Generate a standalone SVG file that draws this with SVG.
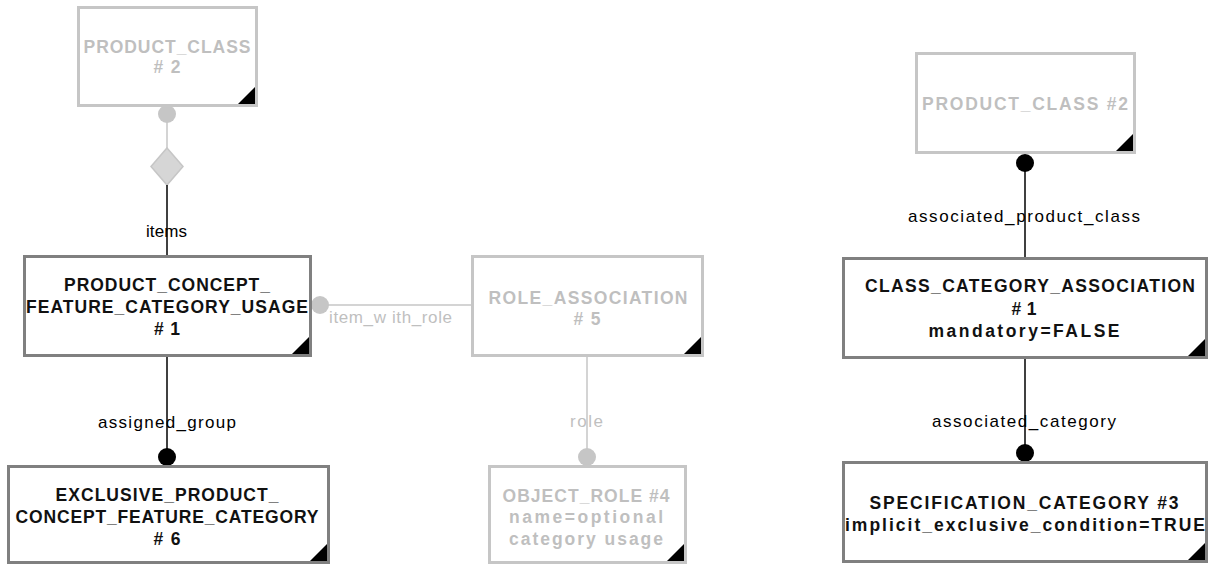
<svg xmlns="http://www.w3.org/2000/svg" width="1210" height="565" viewBox="0 0 1210 565">
<style>
.box{fill:#ffffff;stroke-width:3}
.dark{stroke:#808080}
.light{stroke:#c6c6c6}
.tri{fill:#000000}
.nt{font-family:"Liberation Sans",Arial,sans-serif;font-weight:bold;font-size:17.5px;text-anchor:middle}
.ntd{fill:#111111}
.ntl{fill:#bfbfbf}
.lbl{font-family:"Liberation Sans",Arial,sans-serif;font-size:17px}
.lb{fill:#000000}
.lg{fill:#bfbfbf}
.cb{stroke:#000000;stroke-width:1.5;fill:none}
.cg{stroke:#c6c6c6;stroke-width:1.5;fill:none}
</style>
<rect width="1210" height="565" fill="#ffffff"/>
<g id="connectors">
  <line class="cg" x1="167" y1="114" x2="167" y2="148"/>
  <circle cx="167" cy="114" r="9" fill="#c6c6c6"/>
  <polygon points="167,148 183,166.5 167,185 151,166.5" fill="#d6d6d6" stroke="#c6c6c6" stroke-width="1.5"/>
  <line class="cb" x1="167" y1="185" x2="167" y2="256"/>
  <text class="lbl lb" x="146" y="237" textLength="41" lengthAdjust="spacing">items</text>

  <line class="cb" x1="167" y1="357" x2="167" y2="458"/>
  <circle cx="167" cy="457" r="9" fill="#000000"/>
  <text class="lbl lb" x="98" y="428" textLength="138" lengthAdjust="spacing">assigned_group</text>

  <line class="cg" x1="320" y1="305" x2="472" y2="305"/>
  <circle cx="320" cy="305" r="9" fill="#c6c6c6"/>
  <text class="lbl lg" x="329" y="323" textLength="123" lengthAdjust="spacing">item_w ith_role</text>

  <line class="cg" x1="587" y1="357" x2="587" y2="457"/>
  <circle cx="587" cy="457" r="9" fill="#c6c6c6"/>
  <text class="lbl lg" x="570" y="427" textLength="33" lengthAdjust="spacing">role</text>

  <line class="cb" x1="1025" y1="163" x2="1025" y2="258"/>
  <circle cx="1025" cy="163" r="9" fill="#000000"/>
  <text class="lbl lb" x="908" y="222" textLength="232" lengthAdjust="spacing">associated_product_class</text>

  <line class="cb" x1="1025" y1="359" x2="1025" y2="453"/>
  <circle cx="1025" cy="453" r="9" fill="#000000"/>
  <text class="lbl lb" x="932" y="427" textLength="184" lengthAdjust="spacing">associated_category</text>
</g>

<g id="node-product-class-left">
  <rect class="box light" x="78.5" y="7.5" width="178" height="98"/>
  <path class="tri" d="M255,87 L255,104 L238,104 Z"/>
  <text class="nt ntl" x="167" y="53" textLength="167" lengthAdjust="spacing">PRODUCT_CLASS</text>
  <text class="nt ntl" x="167" y="73" textLength="27" lengthAdjust="spacing">#2</text>
</g>

<g id="node-pcfcu">
  <rect class="box dark" x="24.5" y="256.5" width="286" height="99"/>
  <path class="tri" d="M309,337 L309,354 L292,354 Z"/>
  <text class="nt ntd" x="167" y="291" textLength="206" lengthAdjust="spacing">PRODUCT_CONCEPT_</text>
  <text class="nt ntd" x="167" y="313" textLength="282" lengthAdjust="spacing">FEATURE_CATEGORY_USAGE</text>
  <text class="nt ntd" x="167" y="335" textLength="26" lengthAdjust="spacing">#1</text>
</g>

<g id="node-epcfc">
  <rect class="box dark" x="8.5" y="466.5" width="320" height="96"/>
  <path class="tri" d="M327,544 L327,561 L310,561 Z"/>
  <text class="nt ntd" x="167" y="501" textLength="223" lengthAdjust="spacing">EXCLUSIVE_PRODUCT_</text>
  <text class="nt ntd" x="167" y="523" textLength="303" lengthAdjust="spacing">CONCEPT_FEATURE_CATEGORY</text>
  <text class="nt ntd" x="167" y="545" textLength="27" lengthAdjust="spacing">#6</text>
</g>

<g id="node-role-association">
  <rect class="box light" x="472.5" y="256.5" width="230" height="99"/>
  <path class="tri" d="M701,337 L701,354 L684,354 Z"/>
  <text class="nt ntl" x="588" y="304" textLength="199" lengthAdjust="spacing">ROLE_ASSOCIATION</text>
  <text class="nt ntl" x="587" y="325" textLength="27" lengthAdjust="spacing">#5</text>
</g>

<g id="node-object-role">
  <rect class="box light" x="489.5" y="466.5" width="196" height="96"/>
  <path class="tri" d="M684,544 L684,561 L667,561 Z"/>
  <text class="nt ntl" x="586" y="502" textLength="167" lengthAdjust="spacing">OBJECT_ROLE #4</text>
  <text class="nt ntl" x="586" y="523" textLength="154" lengthAdjust="spacing">name=optional</text>
  <text class="nt ntl" x="586" y="545" textLength="154" lengthAdjust="spacing">category usage</text>
</g>

<g id="node-product-class-right">
  <rect class="box light" x="916.5" y="53.5" width="218" height="99"/>
  <path class="tri" d="M1133,134 L1133,151 L1116,151 Z"/>
  <text class="nt ntl" x="1025" y="110" textLength="206" lengthAdjust="spacing">PRODUCT_CLASS #2</text>
</g>

<g id="node-cca">
  <rect class="box dark" x="843.5" y="258.5" width="363" height="99"/>
  <path class="tri" d="M1205,339 L1205,356 L1188,356 Z"/>
  <text class="nt ntd" x="1030" y="292" textLength="330" lengthAdjust="spacing">CLASS_CATEGORY_ASSOCIATION</text>
  <text class="nt ntd" x="1024" y="315" textLength="25" lengthAdjust="spacing">#1</text>
  <text class="nt ntd" x="1024" y="337" textLength="191" lengthAdjust="spacing">mandatory=FALSE</text>
</g>

<g id="node-spec-category">
  <rect class="box dark" x="843.5" y="462.5" width="363" height="99"/>
  <path class="tri" d="M1205,543 L1205,560 L1188,560 Z"/>
  <text class="nt ntd" x="1024" y="509" textLength="309" lengthAdjust="spacing">SPECIFICATION_CATEGORY #3</text>
  <text class="nt ntd" x="1025" y="531" textLength="360" lengthAdjust="spacing">implicit_exclusive_condition=TRUE</text>
</g>
</svg>
